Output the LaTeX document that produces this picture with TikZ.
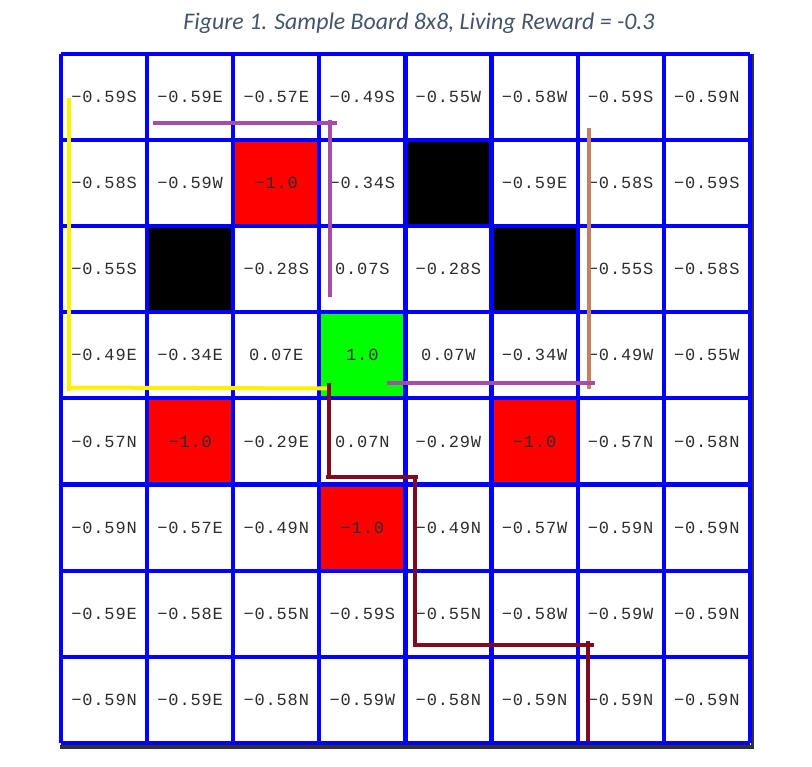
\documentclass[tikz,border=0pt]{standalone}
\usepackage{fontspec}
\newfontfamily\cellfont[LetterSpace=5]{Liberation Mono}
\newfontfamily\titlefont{Carlito}
\definecolor{gridblue}{RGB}{0,0,255}
\definecolor{cellred}{RGB}{255,0,0}
\definecolor{cellgreen}{RGB}{0,255,0}
\definecolor{celltxt}{RGB}{45,45,45}
\definecolor{titlecol}{RGB}{68,84,106}
\definecolor{pathyellow}{RGB}{255,240,0}
\definecolor{pathpurple}{RGB}{163,78,168}
\definecolor{pathbrown}{RGB}{196,128,96}
\definecolor{pathmaroon}{RGB}{128,10,30}
\definecolor{shadowgray}{RGB}{50,50,50}
\tikzset{
  gridline/.style={draw=gridblue, line width=4.2pt, line cap=square},
  celltext/.style={font=\cellfont\fontsize{17}{20}\selectfont, text=celltxt, inner sep=0pt},
  route/.style={line width=4pt},
}
\newcommand\gridrow[2]{%
  \foreach \t [count=\c from 0] in {#2} {%
    \node[celltext] (c#1\c) at ({61+86.1*(\c+0.5)},{54+86.1*(#1+0.5)}) {\t};
  }%
}
\newcommand\cellbox[3]{%
  \fill[#3] ({61+86.1*#2},{54+86.1*#1}) rectangle ++(86.1,86.1);
}
\begin{document}
\begin{tikzpicture}[x=1pt,y=-1pt]
\fill[white] (0,0) rectangle (812,767);
\useasboundingbox (0,0) rectangle (812,767);
% title
\node[font=\titlefont\itshape\fontsize{23.8}{28}\selectfont, text=titlecol, anchor=base] (title) at (419,30) {Figure 1. Sample Board 8x8, Living Reward = -0.3};
% shadow edges
\fill[shadowgray] (751,54) rectangle (754,748);
\fill[shadowgray] (60,745) rectangle (754,748.5);
% coloured cells
\cellbox{1}{2}{cellred}
\cellbox{4}{1}{cellred}
\cellbox{4}{5}{cellred}
\cellbox{5}{3}{cellred}
\cellbox{1}{4}{black}
\cellbox{2}{1}{black}
\cellbox{2}{5}{black}
\cellbox{3}{3}{cellgreen}
% grid
\foreach \i in {0,...,8} {
  \draw[gridline] ({61+86.1*\i},54) -- ({61+86.1*\i},742.8);
  \draw[gridline] (61,{54+86.1*\i}) -- (749.8,{54+86.1*\i});
}
% texts
\gridrow{0}{−0.59S,−0.59E,−0.57E,−0.49S,−0.55W,−0.58W,−0.59S,−0.59N}
\gridrow{1}{−0.58S,−0.59W,−1.0,−0.34S,{},−0.59E,−0.58S,−0.59S}
\gridrow{2}{−0.55S,{},−0.28S,0.07S,−0.28S,{},−0.55S,−0.58S}
\gridrow{3}{−0.49E,−0.34E,0.07E,1.0,0.07W,−0.34W,−0.49W,−0.55W}
\gridrow{4}{−0.57N,−1.0,−0.29E,0.07N,−0.29W,−1.0,−0.57N,−0.58N}
\gridrow{5}{−0.59N,−0.57E,−0.49N,−1.0,−0.49N,−0.57W,−0.59N,−0.59N}
\gridrow{6}{−0.59E,−0.58E,−0.55N,−0.59S,−0.55N,−0.58W,−0.59W,−0.59N}
\gridrow{7}{−0.59N,−0.59E,−0.58N,−0.59W,−0.58N,−0.59N,−0.59N,−0.59N}
% route corner coordinates
\coordinate (y1) at (69,98);
\coordinate (y2) at (69,391);
\coordinate (y3) at (67,387.5);
\coordinate (y4) at (329,388.5);
\coordinate (p1) at (153,123);
\coordinate (p2) at (337,123);
\coordinate (p3) at (330,120);
\coordinate (p4) at (330,297);
\coordinate (q1) at (387,383);
\coordinate (q2) at (595,383);
\coordinate (b1) at (589,128);
\coordinate (b2) at (589,389);
\coordinate (m1) at (329,383);
\coordinate (m2) at (329,477);
\coordinate (m3) at (326,477);
\coordinate (m4) at (418,477);
\coordinate (m5) at (415,477);
\coordinate (m6) at (415,645);
\coordinate (m7) at (413,645);
\coordinate (m8) at (594,645);
\coordinate (m9) at (588,641);
\coordinate (m10) at (588,741);
% routes
\draw[route, pathyellow] (y1) -- (y2);
\draw[route, pathyellow] (y3) -- (y4);
\draw[route, pathpurple] (p1) -- (p2);
\draw[route, pathpurple] (p3) -- (p4);
\draw[route, pathbrown] (b1) -- (b2);
\draw[route, pathpurple] (q1) -- (q2);
\draw[route, pathmaroon] (m1) -- (m2);
\draw[route, pathmaroon] (m3) -- (m4);
\draw[route, pathmaroon] (m5) -- (m6);
\draw[route, pathmaroon] (m7) -- (m8);
\draw[route, pathmaroon] (m9) -- (m10);
\end{tikzpicture}
\end{document}
